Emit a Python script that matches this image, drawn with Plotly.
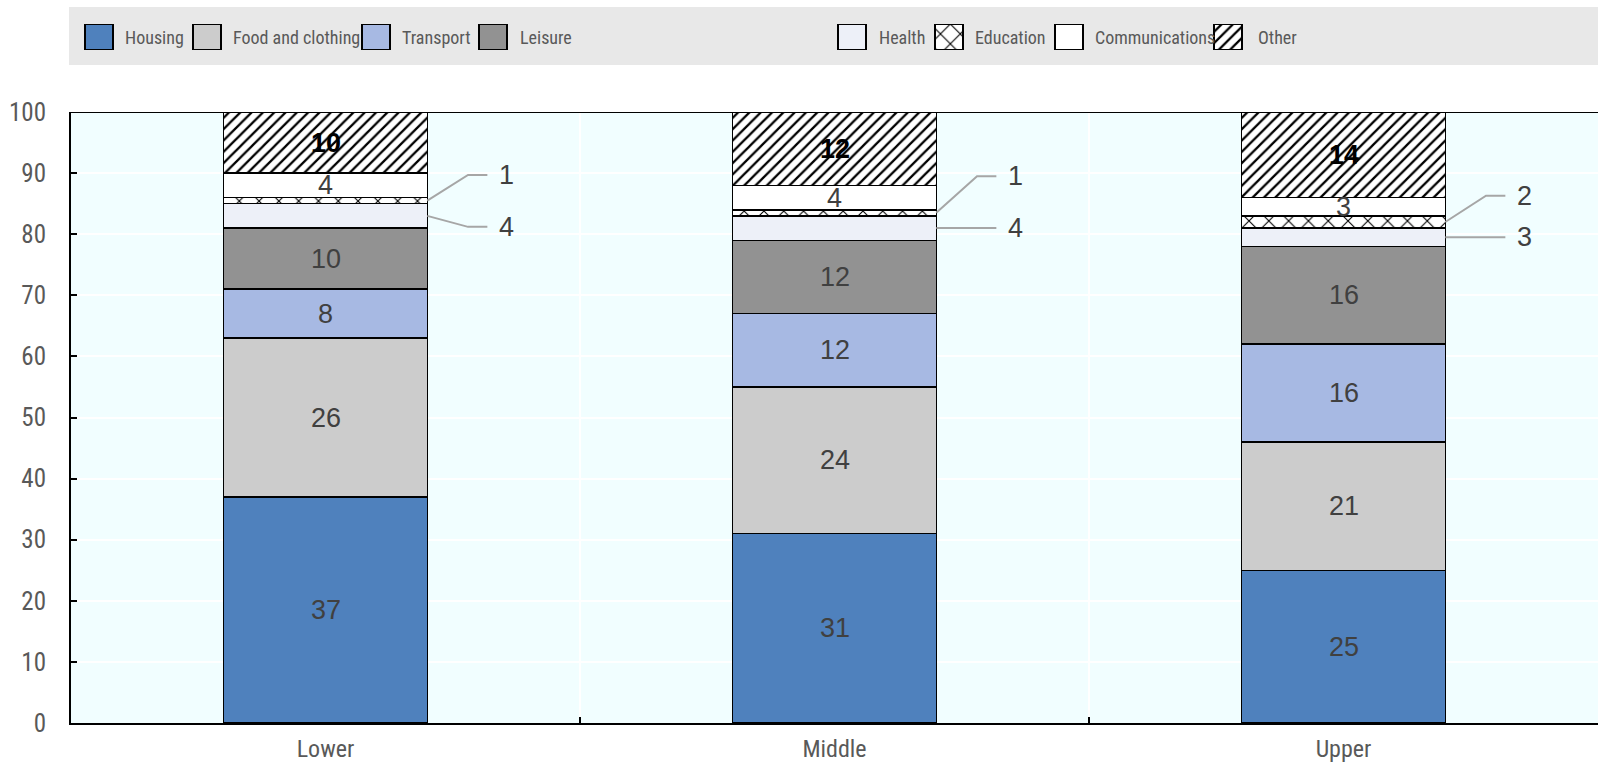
import plotly.graph_objects as go

# Household spending shares by income group (% of total consumption)
groups = ["Lower", "Middle", "Upper"]
series = ["Housing", "Food and clothing", "Transport", "Leisure",
          "Health", "Education", "Communications", "Other"]
housing = [37, 31, 25]
food_clothing = [26, 24, 21]
transport = [8, 12, 16]
leisure = [10, 12, 16]
health = [4, 4, 3]
education = [1, 1, 2]
communications = [4, 4, 3]
other = [10, 12, 14]
values = [housing, food_clothing, transport, leisure,
          health, education, communications, other]

# Series whose labels sit outside the bar on a leader line
callout_series = ["Health", "Education"]
# Vertical position of the callout labels (value-axis units)
callout_y = {"Education": [89.7, 89.5, 86.3], "Health": [81.2, 81.0, 79.3]}

# Styling
colors = {"Housing": "#4F81BD", "Food and clothing": "#CCCCCC",
          "Transport": "#A7B9E3", "Leisure": "#929292", "Health": "#EDF0F8",
          "Education": "#FFFFFF", "Communications": "#FFFFFF", "Other": "#FFFFFF"}
patterns = {"Education": dict(shape="x", size=14, solidity=0.15),
            "Other": dict(shape="/", size=8, solidity=0.28)}

NARROW = "Roboto Condensed, DejaVu Sans Condensed, Liberation Sans Narrow, sans-serif"
LABEL_FONT = "Liberation Sans, Arial, sans-serif"
W, H = 1598, 765
PLOT_LEFT, PLOT_TOP, PLOT_BOTTOM = 71, 112, 723

# Legend layout (pixels from the left / top of the page)
legend_swatch_left = [85, 193, 362, 479, 838, 935, 1055, 1214]
legend_text_left = [123, 231, 400, 518, 877, 973, 1093, 1256]
SWATCH_W, SWATCH_TOP, SWATCH_BOTTOM = 28, 24, 50
BAND_TOP, BAND_BOTTOM = 7, 65


def marker_for(name):
    m = dict(color=colors[name], line=dict(color="black", width=1.5))
    if name in patterns:
        m["pattern"] = dict(fillmode="overlay", fgcolor="black", fgopacity=1,
                            bgcolor="white", **patterns[name])
    return m


fig = go.Figure()

# Stacked bars
for name, vals in zip(series, values):
    fig.add_trace(go.Bar(x=groups, y=vals, name=name, width=0.4,
                         marker=marker_for(name), showlegend=False,
                         hoverinfo="x+y+name"))

# Legend swatches drawn as bars on an overlay axis measured in pixels
for name, left in zip(series, legend_swatch_left):
    fig.add_trace(go.Bar(x=[left + SWATCH_W / 2], y=[1], width=SWATCH_W,
                         marker=marker_for(name), xaxis="x2", yaxis="y2",
                         showlegend=False, hoverinfo="skip"))

annotations = []
shapes = []

# Segment labels
cum = [0.0] * len(groups)
for name, vals in zip(series, values):
    for i, v in enumerate(vals):
        mid = cum[i] + v / 2
        if name in callout_series:
            ly = callout_y[name][i]
            x_edge, x_elbow, x_end, x_text = i + 0.2, i + 0.28, i + 0.318, i + 0.356
            if abs(ly - mid) < 0.6:
                ly = mid
            shapes.append(dict(type="path", xref="x", yref="y",
                               path=f"M {x_edge},{mid} L {x_elbow},{ly} L {x_end},{ly}",
                               line=dict(color="#A6A6A6", width=2), layer="above"))
            annotations.append(dict(x=x_text, y=ly, xref="x", yref="y", text=str(v),
                                    showarrow=False, xanchor="center",
                                    font=dict(family=LABEL_FONT, size=27, color="#404040")))
        else:
            bold = name == "Other"
            annotations.append(dict(x=i, y=mid, xref="x", yref="y",
                                    text=f"<b>{v}</b>" if bold else str(v),
                                    showarrow=False,
                                    font=dict(family=LABEL_FONT, size=27,
                                              color="#000000" if bold else "#404040")))
        cum[i] += v

# Legend texts
for name, left in zip(series, legend_text_left):
    annotations.append(dict(x=left / W, y=(PLOT_BOTTOM - 37) / PLOT_BOTTOM,
                            xref="paper", yref="paper", text=name, showarrow=False,
                            xanchor="left", yanchor="middle",
                            font=dict(family=NARROW, size=18, color="#595959")))

# Plot background, legend band and top border
shapes.append(dict(type="rect", xref="x domain", yref="y domain", x0=0, x1=1, y0=0, y1=1,
                   fillcolor="#F1FEFF", line=dict(width=0), layer="below"))
shapes.append(dict(type="rect", xref="paper", yref="paper", x0=69 / W, x1=1,
                   y0=(PLOT_BOTTOM - BAND_BOTTOM) / PLOT_BOTTOM,
                   y1=(PLOT_BOTTOM - BAND_TOP) / PLOT_BOTTOM,
                   fillcolor="#E8E8E8", line=dict(width=0), layer="below"))
shapes.append(dict(type="line", xref="x domain", yref="y", x0=0, x1=1, y0=100, y1=100,
                   line=dict(color="black", width=2), layer="above"))

fig.update_layout(
    width=W, height=H,
    margin=dict(l=0, r=0, t=0, b=H - PLOT_BOTTOM, pad=0, autoexpand=False),
    barmode="stack",
    paper_bgcolor="white",
    plot_bgcolor="rgba(0,0,0,0)",
    showlegend=False,
    annotations=annotations,
    shapes=shapes,
    xaxis=dict(domain=[PLOT_LEFT / W, 1], type="category", categoryorder="array",
               categoryarray=groups, range=[-0.5, 2.5],
               showline=True, linecolor="black", linewidth=2,
               ticks="inside", tickson="boundaries", ticklen=6, tickwidth=2,
               tickcolor="black", showgrid=True, gridcolor="white", gridwidth=2,
               tickfont=dict(family=NARROW, size=24, color="#595959"),
               ticklabelstandoff=3),
    yaxis=dict(domain=[0, (PLOT_BOTTOM - PLOT_TOP) / PLOT_BOTTOM], range=[0, 100],
               dtick=10, showline=True, linecolor="black", linewidth=2,
               ticks="inside", ticklen=6, tickwidth=2, tickcolor="black",
               showgrid=True, gridcolor="white", gridwidth=2, zeroline=False,
               tickfont=dict(family=NARROW, size=25, color="#595959"),
               ticklabelstandoff=18),
    xaxis2=dict(domain=[0, 1], range=[0, W], visible=False, anchor="y2",
                fixedrange=True),
    yaxis2=dict(domain=[(PLOT_BOTTOM - SWATCH_BOTTOM) / PLOT_BOTTOM,
                        (PLOT_BOTTOM - SWATCH_TOP) / PLOT_BOTTOM],
                range=[0, 1], visible=False, anchor="x2", fixedrange=True),
)

fig.write_html("out.html")
